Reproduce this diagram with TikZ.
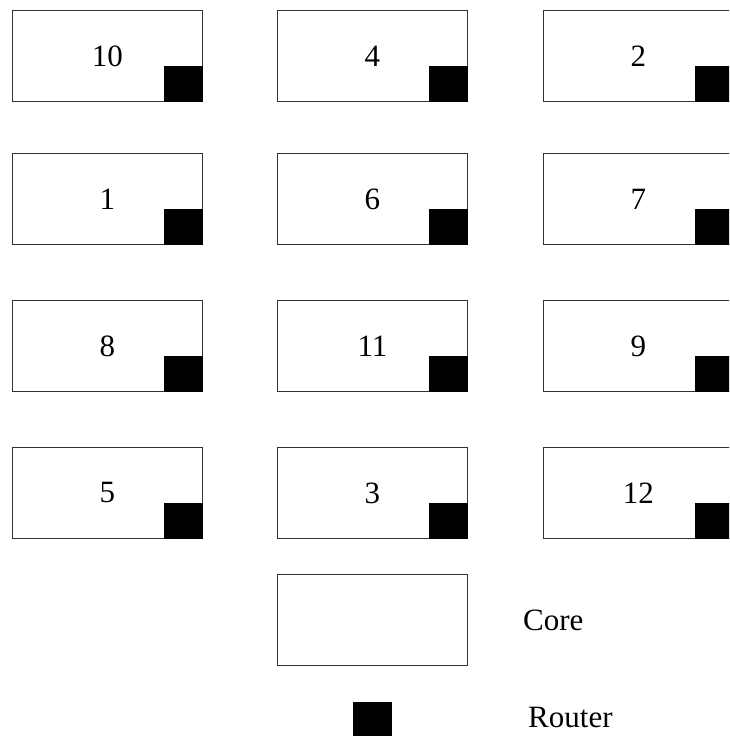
\documentclass[tikz,border=0pt]{standalone}
\usepackage{fontspec}
\setmainfont{Liberation Serif}
\begin{document}
\begin{tikzpicture}[x=1pt,y=-1pt,
  corebox/.style={draw=black!80, line width=0.9pt, fill=white, minimum width=190pt, minimum height=91pt, inner sep=0pt, anchor=north west, font=\fontsize{31}{36}\selectfont},
  routerbox/.style={draw=black, fill=black, line width=0.5pt, minimum width=38pt, minimum height=35pt, inner sep=0pt, anchor=south east},
  legendtext/.style={inner sep=0pt, anchor=base west, font=\fontsize{31}{36}\selectfont}]
\useasboundingbox (0,0) rectangle (729,736);
\clip (0,0) rectangle (729,736);
% row 1
\node[corebox] (c10) at (12,10) {10};
\node[corebox] (c4) at (277,10) {4};
\node[corebox] (c2) at (543,10) {2};
% row 2
\node[corebox] (c1) at (12,153) {1};
\node[corebox] (c6) at (277,153) {6};
\node[corebox] (c7) at (543,153) {7};
% row 3
\node[corebox] (c8) at (12,300) {8};
\node[corebox] (c11) at (277,300) {11};
\node[corebox] (c9) at (543,300) {9};
% row 4
\node[corebox] (c5) at (12,447) {5};
\node[corebox] (c3) at (277,447) {3};
\node[corebox] (c12) at (543,447) {12};
% routers
\foreach \c in {c10,c4,c2,c1,c6,c7,c8,c11,c9,c5,c3,c12}{
  \node[routerbox] (r-\c) at (\c.south east) {};
}
% legend
\node[corebox] (lcore) at (277,574) {};
\node[legendtext] (lcoretext) at (523,630) {Core};
\node[routerbox, anchor=north west] (lrouter) at (353,702) {};
\node[legendtext] (lroutertext) at (528,727) {Router};
\end{tikzpicture}
\end{document}
